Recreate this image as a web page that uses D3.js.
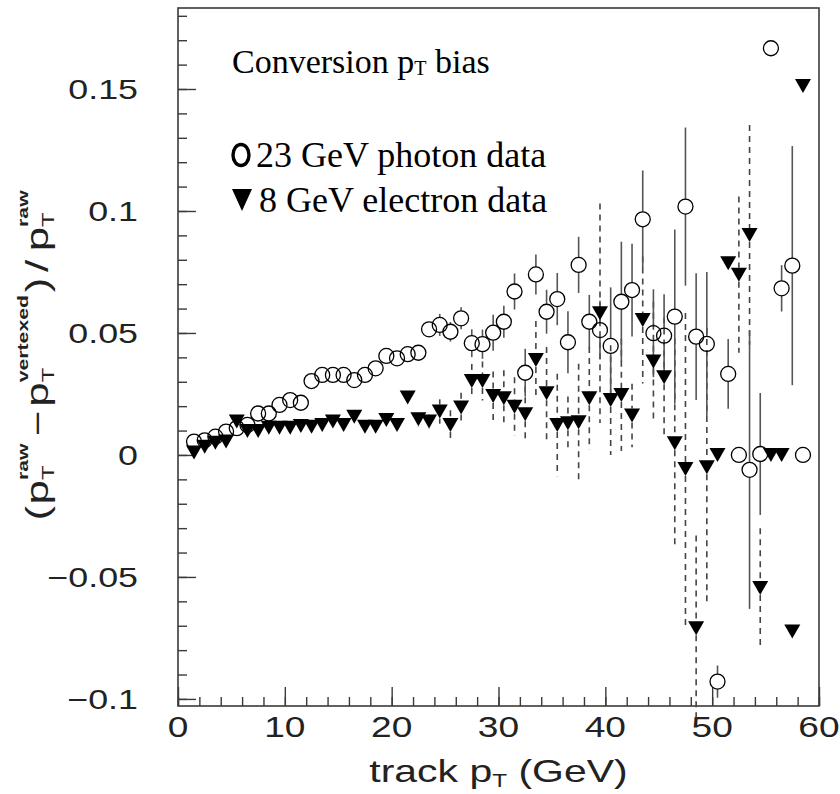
<!DOCTYPE html>
<html>
<head>
<meta charset="utf-8">
<script src="https://cdn.jsdelivr.net/npm/d3@7"></script>
<style>
  body { margin: 0; background: #fff; }
  svg { display: block; }
</style>
</head>
<body>
<svg id="chart" width="840" height="794"></svg>
<script>
// bin centres (GeV)
const xBins = [1.5, 2.5, 3.5, 4.5, 5.5, 6.5, 7.5, 8.5, 9.5, 10.5,
  11.5, 12.5, 13.5, 14.5, 15.5, 16.5, 17.5, 18.5, 19.5, 20.5,
  21.5, 22.5, 23.5, 24.5, 25.5, 26.5, 27.5, 28.5, 29.5, 30.5,
  31.5, 32.5, 33.5, 34.5, 35.5, 36.5, 37.5, 38.5, 39.5, 40.5,
  41.5, 42.5, 43.5, 44.5, 45.5, 46.5, 47.5, 48.5, 49.5, 50.5,
  51.5, 52.5, 53.5, 54.5, 55.5, 56.5, 57.5, 58.5];

// 23 GeV photon data (open circles)
const photonY = [0.0055, 0.006, 0.0075, 0.0096, 0.011, 0.0123, 0.017, 0.017, 0.0205, 0.0225,
  0.0214, 0.0303, 0.0328, 0.0328, 0.0328, 0.0307, 0.0328, 0.0355, 0.0406, 0.0396,
  0.0413, 0.0419, 0.0515, 0.0533, 0.0505, 0.056, 0.0458, 0.0454, 0.0501, 0.0546,
  0.067, 0.0337, 0.074, 0.0587, 0.0639, 0.0462, 0.0779, 0.0546, 0.0512, 0.0447,
  0.0628, 0.0676, 0.0966, 0.0499, 0.0489, 0.0567, 0.1018, 0.0485, 0.0455, -0.0929,
  0.0332, 0, -0.0061, 0.0004, 0.1667, 0.0683, 0.0776, 0];
const photonErr = [0.001, 0.001, 0.001, 0.001, 0.001, 0.001, 0.0015, 0.0015, 0.0015, 0.0015,
  0.0015, 0.002, 0.002, 0.002, 0.002, 0.002, 0.002, 0.002, 0.0025, 0.0025,
  0.0025, 0.003, 0.003, 0.0045, 0.004, 0.0045, 0.0057, 0.006, 0.0074, 0.0066,
  0.0074, 0.0098, 0.0082, 0.009, 0.0107, 0.0127, 0.0115, 0.011, 0.012, 0.024,
  0.0246, 0.019, 0.02, 0.018, 0.017, 0.0357, 0.0324, 0.026, 0.0295, 0.0066,
  0.0143, 0, 0.057, 0.025, 0, 0.0095, 0.049, 0];

// 8 GeV electron data (filled triangles)
const electronY = [0.001, 0.0034, 0.005, 0.0055, 0.0137, 0.0098, 0.0098, 0.0112, 0.0112, 0.0112,
  0.0119, 0.0116, 0.0123, 0.0137, 0.0123, 0.0157, 0.0116, 0.0116, 0.0143, 0.0123,
  0.0235, 0.0146, 0.0137, 0.0178, 0.0123, 0.0195, 0.0303, 0.0303, 0.0242, 0.0232,
  0.0198, 0.0167, 0.0389, 0.0253, 0.0123, 0.013, 0.0134, 0.0232, 0.0581, 0.0225,
  0.0246, 0.0162, 0.0553, 0.0383, 0.0318, 0.0048, -0.0058, -0.071, -0.005, 0,
  0.0786, 0.0739, 0.0902, -0.0545, 0, 0, -0.0724, 0.1512];
const electronErr = [0.001, 0.001, 0.001, 0.001, 0.001, 0.001, 0.001, 0.001, 0.001, 0.001,
  0.001, 0.0015, 0.0015, 0.0015, 0.0015, 0.0015, 0.0015, 0.0015, 0.002, 0.002,
  0.002, 0.003, 0.003, 0.005, 0.006, 0.006, 0.007, 0.008, 0.01, 0.0115,
  0.012, 0.0115, 0.016, 0.019, 0.021, 0.011, 0.024, 0.021, 0.045, 0.0225,
  0.023, 0.013, 0.026, 0.0245, 0.0245, 0.043, 0.064, 0.038, 0.057, 0,
  0, 0.032, 0.045, 0.0245, 0, 0, 0, 0];

const xTicks = [0, 10, 20, 30, 40, 50, 60];
const xTickLabels = ["0", "10", "20", "30", "40", "50", "60"];
const yTicks = [-0.1, -0.05, 0, 0.05, 0.1, 0.15];
const yTickLabels = ["\u22120.1", "\u22120.05", "0", "0.05", "0.1", "0.15"];

const svg = d3.select("#chart");
const axisColor = "#3a3a3a";
const wide = 1.28; // ROOT font is wider than Helvetica

const x = d3.scaleLinear().domain([0, 60]).range([178, 819]);
const y = d3.scaleLinear().domain([-0.1029, 0.1832]).range([706, 8]);

// frame
svg.append("rect")
  .attr("x", x(0)).attr("y", y(0.1832))
  .attr("width", x(60) - x(0)).attr("height", y(-0.1029) - y(0.1832))
  .attr("fill", "none").attr("stroke", axisColor).attr("stroke-width", 1.6);

// y axis ticks (inside the frame)
const yMinor = d3.range(-10, 19).map(i => i / 100);
svg.append("g").attr("transform", `translate(${x(0)},0)`)
  .call(d3.axisLeft(y).tickValues(yMinor).tickSize(-9).tickFormat(""))
  .call(g => g.select(".domain").remove())
  .selectAll("line").attr("stroke", axisColor).attr("stroke-width", 1.4);
svg.append("g").attr("transform", `translate(${x(0)},0)`)
  .call(d3.axisLeft(y).tickValues(yTicks).tickSize(-18).tickFormat(""))
  .call(g => g.select(".domain").remove())
  .selectAll("line").attr("stroke", axisColor).attr("stroke-width", 1.4);

// x axis ticks
const xMinor = d3.range(0, 61, 2);
svg.append("g").attr("transform", `translate(0,${y(-0.1029)})`)
  .call(d3.axisBottom(x).tickValues(xMinor).tickSize(-9).tickFormat(""))
  .call(g => g.select(".domain").remove())
  .selectAll("line").attr("stroke", axisColor).attr("stroke-width", 1.4);
svg.append("g").attr("transform", `translate(0,${y(-0.1029)})`)
  .call(d3.axisBottom(x).tickValues(xTicks).tickSize(-19).tickFormat(""))
  .call(g => g.select(".domain").remove())
  .selectAll("line").attr("stroke", axisColor).attr("stroke-width", 1.4);

// tick labels
const labelFont = "'Liberation Sans', Arial, sans-serif";
yTicks.forEach((v, i) => {
  svg.append("text")
    .attr("transform", `translate(138,${y(v) + 10}) scale(${wide},1)`)
    .attr("text-anchor", "end")
    .style("font-family", labelFont).style("font-size", "28px")
    .attr("fill", "#222")
    .text(yTickLabels[i]);
});
xTicks.forEach((v, i) => {
  svg.append("text")
    .attr("transform", `translate(${x(v)},737) scale(${wide},1)`)
    .attr("text-anchor", "middle")
    .style("font-family", labelFont).style("font-size", "29px")
    .attr("fill", "#222")
    .text(xTickLabels[i]);
});

// x title
const xt = svg.append("text")
  .attr("transform", `translate(${(x(0) + x(60)) / 2},782) scale(${wide},1)`)
  .attr("text-anchor", "middle")
  .style("font-family", labelFont).style("font-size", "32px")
  .attr("fill", "#222");
xt.append("tspan").text("track p");
xt.append("tspan").attr("dy", 5).style("font-size", "19px").text("T");
xt.append("tspan").attr("dy", -5).text(" (GeV)");

// y title, laid out piece by piece then rotated
const yt = svg.append("g");
const inner = yt.append("g");
let cursor = 0;
function piece(str, size, dy, weight) {
  const t = inner.append("text")
    .attr("x", cursor).attr("y", dy)
    .style("font-family", labelFont).style("font-size", size + "px")
    .style("font-weight", weight || "normal")
    .attr("fill", "#222")
    .text(str);
  return t.node().getComputedTextLength();
}
function pT(sup) {
  cursor += piece("p", 31, 0);
  const w1 = piece("T", 17, 6);
  const w2 = piece(sup, 15, -20, "bold");
  cursor += Math.max(w1, w2) + 2;
}
cursor += piece("(", 31, 0) + 1;
pT("raw");
cursor += 3;
cursor += piece("\u2212", 31, 0) + 3;
pT("vertexed");
cursor += piece(")", 31, 0) + 4;
cursor += piece("/", 31, 0) + 6;
pT("raw");
// fit the title into the extent it has in the reference (about 187..520)
const titleLen = 333;
inner.attr("transform", `translate(${-cursor / 2},0)`);
yt.attr("transform", `translate(48,354) rotate(-90) scale(${titleLen / cursor},1)`);

// error bars, broken around the marker
function errBars(ys, errs, gap, cls) {
  const segs = [];
  xBins.forEach((xv, i) => {
    const cy = y(ys[i]);
    const top = y(ys[i] + errs[i]);
    const bot = y(ys[i] - errs[i]);
    if (cy - top > gap) segs.push({ x: x(xv), y1: top, y2: cy - gap });
    if (bot - cy > gap) segs.push({ x: x(xv), y1: cy + gap, y2: bot });
  });
  return svg.append("g").attr("class", cls).selectAll("line")
    .data(segs).enter().append("line")
    .attr("x1", d => d.x).attr("x2", d => d.x)
    .attr("y1", d => d.y1).attr("y2", d => d.y2);
}
errBars(electronY, electronErr, 7, "err-e")
  .attr("stroke", "#444").attr("stroke-width", 1.6).attr("stroke-dasharray", "6,5");
errBars(photonY, photonErr, 7.5, "err-p")
  .attr("stroke", "#555").attr("stroke-width", 1.6);

// markers
const triPath = "M-8,-7L8,-7L0,7Z";
svg.append("g").selectAll("path")
  .data(xBins).enter().append("path")
  .attr("d", triPath)
  .attr("transform", (d, i) => `translate(${x(d)},${y(electronY[i])})`)
  .attr("fill", "#000");

svg.append("g").selectAll("circle")
  .data(xBins).enter().append("circle")
  .attr("cx", d => x(d))
  .attr("cy", (d, i) => y(photonY[i]))
  .attr("r", 7.5)
  .attr("fill", "none").attr("stroke", "#000").attr("stroke-width", 1.3);

// legend / caption
const serif = "'Liberation Serif', 'Times New Roman', serif";
const cap = svg.append("text").attr("x", 232).attr("y", 73)
  .style("font-family", serif).style("font-size", "34px").attr("fill", "#000");
cap.append("tspan").text("Conversion p");
cap.append("tspan").attr("dy", 2).style("font-size", "20px").text("T");
cap.append("tspan").attr("dy", -2).text(" bias");

svg.append("ellipse").attr("cx", 241).attr("cy", 155).attr("rx", 8).attr("ry", 10.5)
  .attr("fill", "none").attr("stroke", "#000").attr("stroke-width", 3.4);
svg.append("text").attr("x", 256).attr("y", 167)
  .style("font-family", serif).style("font-size", "36px").attr("fill", "#000")
  .text("23 GeV photon data");

svg.append("path").attr("d", "M232,189L252,189L242,211Z").attr("fill", "#000");
svg.append("text").attr("x", 259).attr("y", 212)
  .style("font-family", serif).style("font-size", "36px").attr("fill", "#000")
  .text("8 GeV electron data");
</script>
</body>
</html>
